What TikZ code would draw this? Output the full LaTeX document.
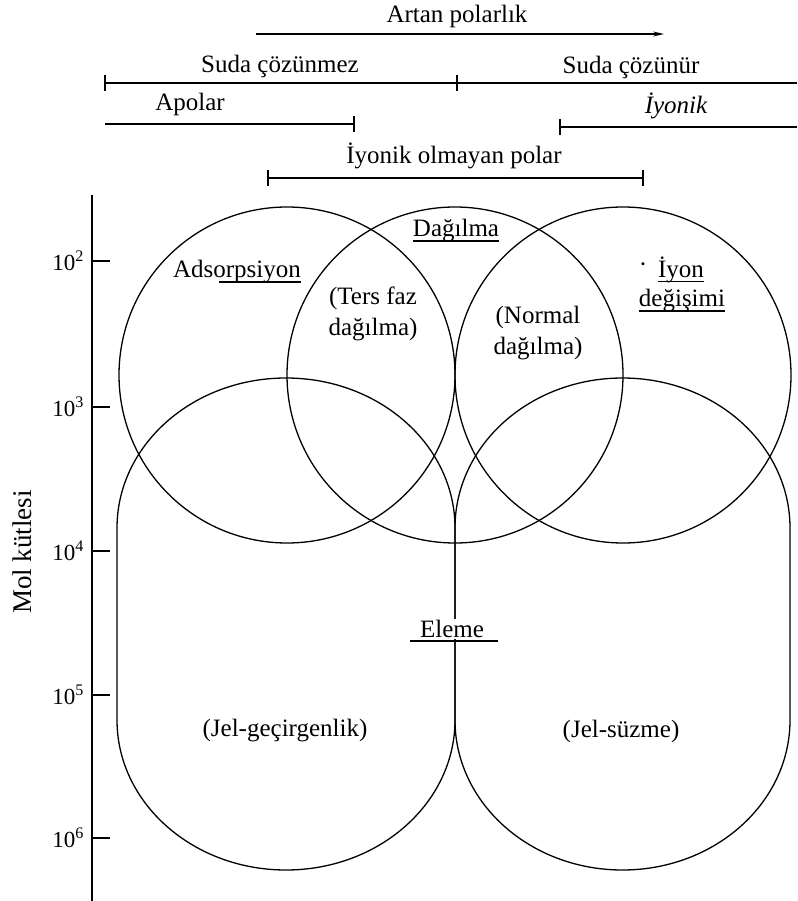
\documentclass[tikz,border=0pt]{standalone}
\usepackage{fontspec}
\setmainfont{Liberation Serif}
\usetikzlibrary{arrows.meta}
\tikzset{
  lbl/.style={inner sep=0pt, font=\fontsize{25}{31}\selectfont},
  ticklbl/.style={inner sep=0pt, anchor=east, font=\fontsize{23}{27}\selectfont},
  rangeline/.style={line width=1.4pt},
  shapeline/.style={line width=1.3pt},
  axisline/.style={line width=2pt},
  uline/.style={line width=1.1pt}
}
\begin{document}
\begin{tikzpicture}[x=1pt,y=1pt]
\useasboundingbox (0,0) rectangle (797,-901);

% --- top polarity scales ---
\node[lbl] (artan) at (457,-16) {Artan polarlık};
\coordinate (arrS) at (256,-34);
\coordinate (arrE) at (664,-34);
\draw[rangeline,-{Stealth[length=11pt,width=5pt]}] (arrS) -- (arrE);

\node[lbl] (sudaz) at (280,-66) {Suda çözünmez};
\node[lbl] (sudau) at (631,-67) {Suda çözünür};
\coordinate (s1) at (105,-83);
\coordinate (s2) at (457,-83);
\coordinate (s3) at (797,-83);
\draw[rangeline] (s1) -- (s3);
\draw[rangeline] ([yshift=8pt]s1) -- ([yshift=-8pt]s1);
\draw[rangeline] ([yshift=8pt]s2) -- ([yshift=-8pt]s2);

\node[lbl] (apolar) at (190,-104) {Apolar};
\coordinate (a1) at (105,-124);
\coordinate (a2) at (354,-124);
\draw[rangeline] (a1) -- (a2);
\draw[rangeline] ([yshift=8pt]a2) -- ([yshift=-8pt]a2);

\node[lbl] (iyonik) at (676,-106) {\itshape İyonik};
\coordinate (i1) at (560,-127);
\coordinate (i2) at (797,-127);
\draw[rangeline] (i1) -- (i2);
\draw[rangeline] ([yshift=8pt]i1) -- ([yshift=-8pt]i1);

\node[lbl] (iop) at (454,-156) {İyonik olmayan polar};
\coordinate (p1) at (268,-178);
\coordinate (p2) at (643,-178);
\draw[rangeline] (p1) -- (p2);
\draw[rangeline] ([yshift=8pt]p1) -- ([yshift=-8pt]p1);
\draw[rangeline] ([yshift=8pt]p2) -- ([yshift=-8pt]p2);

% --- vertical axis ---
\coordinate (ax1) at (92,-195);
\coordinate (ax2) at (92,-901);
\draw[axisline] (ax1) -- (ax2);
\foreach \e/\yy in {2/261,3/407,4/551,5/695,6/838}{
  \coordinate (tk\e) at (92,-\yy);
  \draw[line width=1.2pt] (tk\e) -- ++(18,0);
  \node[ticklbl] (tl\e) at (84,-\yy) {10\textsuperscript{\e}};
}
\node[inner sep=0pt, font=\fontsize{27}{32}\selectfont, rotate=90] (mol) at (22,-552) {Mol kütlesi};

% --- upper circles ---
\draw[shapeline] (287,-375) circle[radius=168];
\draw[shapeline] (455,-375) circle[radius=168];
\draw[shapeline] (623,-375) circle[radius=168];

% --- lower stadium shapes ---
\draw[shapeline] (117,-528) arc[start angle=180,end angle=0,x radius=169,y radius=150]
  -- (455,-720) arc[start angle=0,end angle=-180,x radius=169,y radius=150] -- cycle;
\draw[shapeline] (455,-528) arc[start angle=180,end angle=0,x radius=167.5,y radius=150]
  -- (790,-720) arc[start angle=0,end angle=-180,x radius=167.5,y radius=150] -- cycle;

% --- region labels ---
\node[lbl] (ads) at (237,-272) {Adsorpsiyon};
\draw[uline] ([xshift=46pt,yshift=-4pt]ads.base west) -- ([yshift=-4pt]ads.base east);

\node[lbl] (dag) at (456,-231) {Dağılma};
\draw[uline] ([yshift=-4pt]dag.base west) -- ([yshift=-4pt]dag.base east);

\node[lbl, align=center] (ters) at (373,-314) {(Ters faz\\dağılma)};
\node[lbl, align=center] (norm) at (538,-333) {(Normal\\dağılma)};

\node[lbl] (iyon) at (681,-270) {İyon};
\draw[uline] ([yshift=-4pt]iyon.base west) -- ([yshift=-4pt]iyon.base east);
\node[lbl] (degis) at (682,-301) {değişimi};
\draw[uline] ([yshift=-4pt]degis.base west) -- ([yshift=-4pt]degis.base east);
\node[lbl] (dot) at (643,-268) {·};

\node[lbl, fill=white, inner sep=1pt] (eleme) at (452,-629) {Eleme};
\coordinate (el1) at (410,-641);
\coordinate (el2) at (498,-641);
\draw[uline] (el1) -- (el2);

\node[lbl] (jg) at (285,-731) {(Jel-geçirgenlik)};
\node[lbl] (js) at (621,-731) {(Jel-süzme)};
\end{tikzpicture}
\end{document}
